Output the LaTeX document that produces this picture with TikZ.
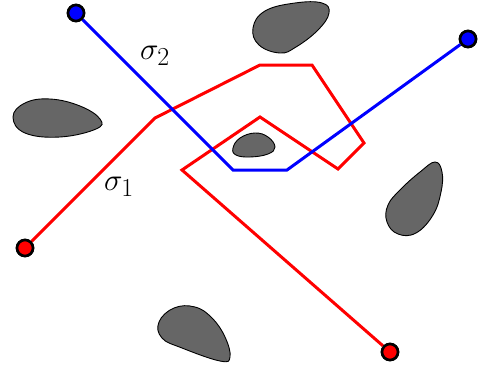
\documentclass[tikz,border=0pt]{standalone}
\begin{document}
\begin{tikzpicture}[x=1pt,y=-1pt,
  blob/.style={fill=black!60,draw=black,line width=0.9pt},
  pathline/.style={line width=3pt,line join=miter},
  endpt/.style={circle,draw=black,line width=2.6pt,minimum size=16pt,inner sep=0pt},
  lbl/.style={font=\Huge}]
\useasboundingbox (0,0) rectangle (479,367);
% obstacles
\draw[blob] plot[smooth cycle,tension=0.7] coordinates {(13,117) (25,103) (50,99) (80,106) (100,119) (96,129) (60,137) (25,133)};
\draw[blob] plot[smooth cycle,tension=0.7] coordinates {(253,28) (265,11) (295,3) (322,3) (329,13) (318,30) (296,47) (280,53) (259,45)};
\draw[blob] plot[smooth cycle,tension=0.7] coordinates {(233,148) (240,138) (255,133) (268,137) (275,147) (268,154) (250,157) (236,155)};
\draw[blob] plot[smooth cycle,tension=0.7] coordinates {(388,205) (401,189) (420,172) (435,162) (442,172) (441,192) (433,215) (416,233) (398,234) (387,222)};
\draw[blob] plot[smooth cycle,tension=0.7] coordinates {(159,322) (174,308) (195,307) (212,318) (225,337) (230,357) (220,361) (182,348) (162,338)};
% endpoints
\node[endpt,fill=blue] (b1) at (76,13) {};
\node[endpt,fill=blue] (b2) at (468,39) {};
\node[endpt,fill=red] (r1) at (25,248) {};
\node[endpt,fill=red] (r2) at (390,352) {};
% corners
\coordinate (bA) at (233,170);
\coordinate (bB) at (287,170);
\coordinate (rA) at (155,118);
\coordinate (rB) at (260,65);
\coordinate (rC) at (312,65);
\coordinate (rD) at (364,143);
\coordinate (rE) at (338,169);
\coordinate (rF) at (260,117);
\coordinate (rG) at (182,170);
% paths
\draw[pathline,red] (r1) -- (rA) -- (rB) -- (rC) -- (rD) -- (rE) -- (rF) -- (rG) -- (r2);
\draw[pathline,blue] (b1) -- (bA) -- (bB) -- (b2);
% redraw endpoints on top
\node[endpt,fill=blue] at (b1) {};
\node[endpt,fill=blue] at (b2) {};
\node[endpt,fill=red] at (r1) {};
\node[endpt,fill=red] at (r2) {};
% labels
\node[lbl] (s2) at (155,56) {\scalebox{1.25}{$\sigma_2$}};
\node[lbl] (s1) at (119,187) {\scalebox{1.25}{$\sigma_1$}};
\end{tikzpicture}
\end{document}
